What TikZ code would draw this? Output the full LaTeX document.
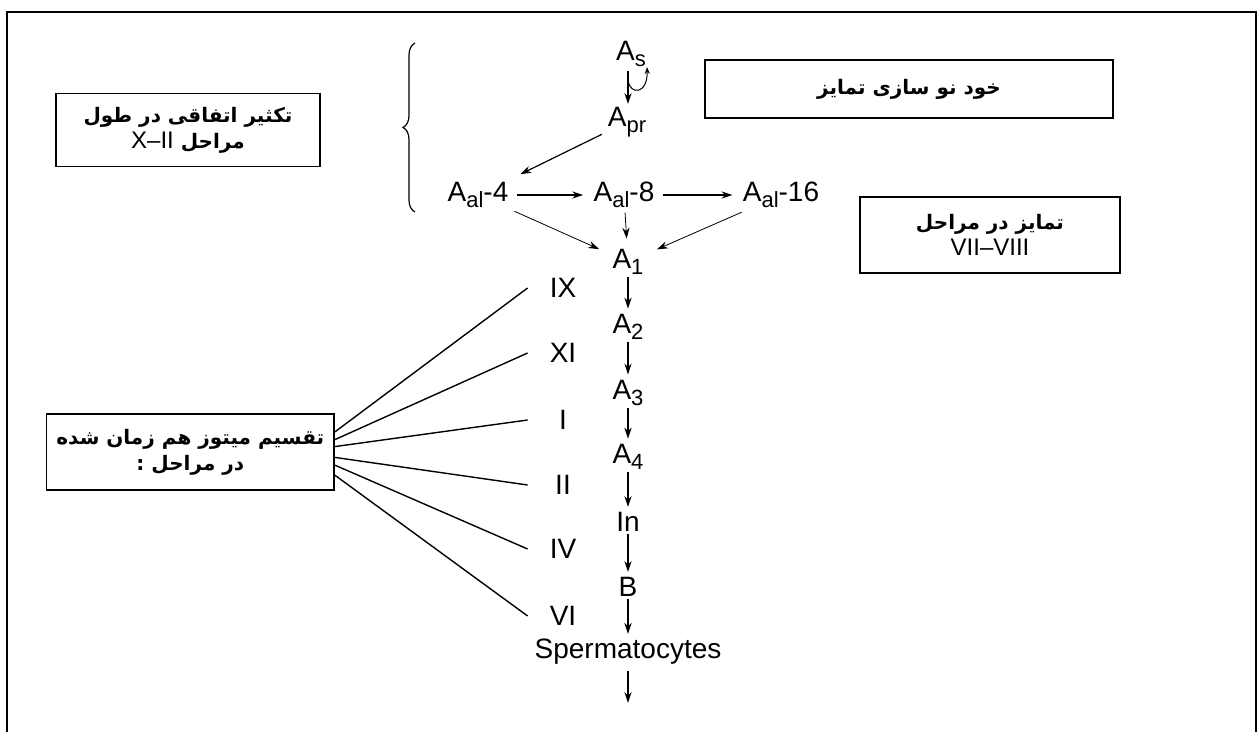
\documentclass[tikz,border=0pt]{standalone}
\usepackage{fontspec}
\setmainfont{Liberation Sans}
\newfontfamily\arabicfont[Script=Arabic]{DejaVu Sans}
\TeXXeTstate=1
\usetikzlibrary{arrows.meta,decorations.pathreplacing,calc}
\newcommand\lsub[1]{\raisebox{-0.45ex}{\fontsize{11}{10}\selectfont #1}}
\newcommand\latn[1]{{\normalfont\fontsize{12}{13}\selectfont #1}}
\begin{document}
\begin{tikzpicture}[x=0.5pt,y=-0.5pt,
  lbl/.style={font=\fontsize{14}{16}\selectfont, inner sep=1pt},
  num/.style={lbl, minimum width=35pt},
  pbox/.style={draw, line width=0.8pt, font=\arabicfont\bfseries\fontsize{10}{13}\selectfont, align=center, inner sep=0pt},
  arr/.style={-{Stealth[length=5.5pt,width=3.6pt]}, line width=0.6pt},
  farr/.style={arr, line width=0.4pt},
  fan/.style={line width=0.7pt},
  frame/.style={line width=1.3pt}
  ]
\useasboundingbox (0,0) rectangle (1259,732);
% frame
\draw[frame] (7,732) -- (7,12) -- (1256,12) -- (1256,732);

% boxes
\node[pbox, minimum width=132pt, minimum height=36.5pt] (box1) at (188,130)
  {\beginR تکثیر اتفاقی در طول\endR\\\beginR مراحل \beginL\latn{X–II}\endL\endR};
\node[pbox, minimum width=204pt, minimum height=29pt] (box2) at (909,89)
  {\beginR خود نو سازی تمایز\endR};
\node[pbox, minimum width=130pt, minimum height=38pt] (box4) at (990,235)
  {\beginR تمایز در مراحل\endR\\\latn{VII–VIII}};
\node[pbox, anchor=east, minimum height=38pt, inner xsep=5pt] (box3) at (335,452)
  {\beginR تقسیم میتوز هم زمان شده\endR\\\beginR در مراحل :\endR};

% brace
\draw[line width=0.6pt, decorate, decoration={brace, amplitude=6pt}] (415,212) -- (415,43);

% main column
\node[lbl] (As) at (631,54) {A\lsub{s}};
\node[lbl] (Apr) at (627,122) {A\lsub{pr}};
\node[lbl] (Aal4) at (478,195) {A\lsub{al}-4};
\node[lbl] (Aal8) at (624,195) {A\lsub{al}-8};
\node[lbl] (Aal16) at (781,195) {A\lsub{al}-16};
\node[lbl] (A1) at (628,262) {A\lsub{1}};
\node[lbl] (A2) at (628,327) {A\lsub{2}};
\node[lbl] (A3) at (628,393) {A\lsub{3}};
\node[lbl] (A4) at (628,457) {A\lsub{4}};
\node[lbl] (In) at (628,522) {In};
\node[lbl] (B) at (628,587) {B};
\node[lbl] (Sp) at (628,652) {Spermatocytes};
\coordinate (end) at (628,703);

\coordinate (As1) at (628,71);
\coordinate (As2) at (628,104);
\draw[arr] (As1) -- (As2);
\coordinate (L1) at (628,80);
\coordinate (L2) at (647,67);
\draw[-{Stealth[length=3.5pt,width=2.6pt]}, line width=0.5pt] (L1) .. controls (630,96) and (648,94) .. (L2);

\draw[arr, shorten <=2pt, shorten >=6pt] (Apr) -- (Aal4);
\draw[arr, shorten <=3pt, shorten >=4pt] (Aal4) -- (Aal8);
\draw[arr, shorten <=3pt, shorten >=4pt] (Aal8) -- (Aal16);
\draw[farr, shorten <=2pt, shorten >=6pt] (Aal4) -- (A1);
\draw[farr, shorten <=1pt, shorten >=4pt] (Aal8) -- (A1);
\draw[farr, shorten <=2pt, shorten >=6pt] (Aal16) -- (A1);

\foreach \a/\b in {A1/A2,A2/A3,A3/A4,A4/In,In/B,B/Sp}
  \draw[arr, shorten >=1.5pt] (\a) -- (\b);
\draw[arr, shorten <=2pt] (Sp) -- (end);

% numerals
\node[num] (nIX) at (563,288) {IX};
\node[num] (nXI) at (563,353) {XI};
\node[num] (nI) at (563,420) {I};
\node[num] (nII) at (563,485) {II};
\node[num] (nIV) at (563,549) {IV};
\node[num] (nVI) at (563,616) {VI};

\draw[fan] ($(box3.north east)!0.24!(box3.south east)$) -- (nIX.west);
\draw[fan] ($(box3.north east)!0.34!(box3.south east)$) -- (nXI.west);
\draw[fan] ($(box3.north east)!0.43!(box3.south east)$) -- (nI.west);
\draw[fan] ($(box3.north east)!0.57!(box3.south east)$) -- (nII.west);
\draw[fan] ($(box3.north east)!0.67!(box3.south east)$) -- (nIV.west);
\draw[fan] ($(box3.north east)!0.80!(box3.south east)$) -- (nVI.west);
\end{tikzpicture}
\end{document}
